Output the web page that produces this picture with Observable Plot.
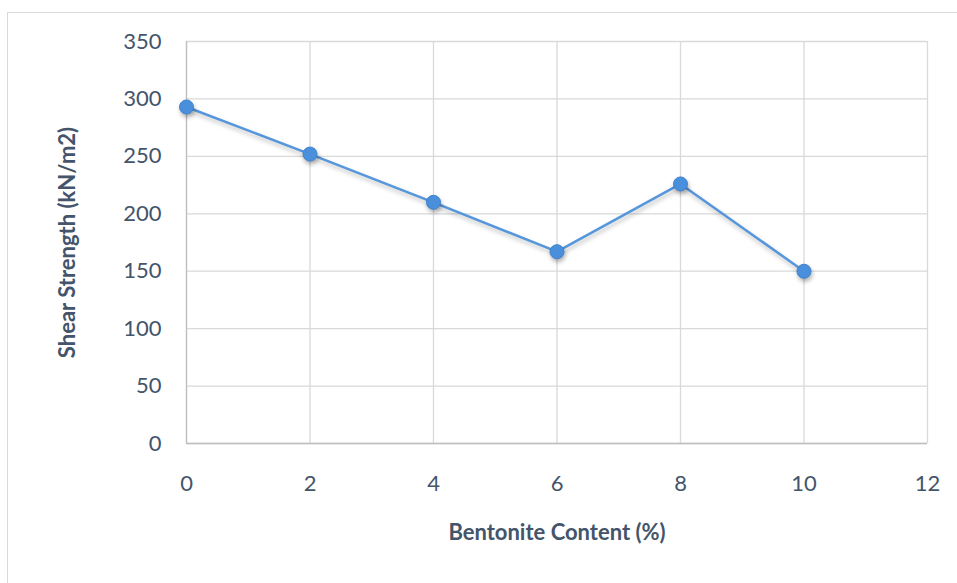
<!DOCTYPE html>
<html>
<head>
<meta charset="utf-8">
<script src="https://cdn.jsdelivr.net/npm/d3@7"></script>
<script src="https://cdn.jsdelivr.net/npm/@observablehq/plot@0.6"></script>
<style>
  html, body { margin: 0; padding: 0; background: #fff; }
  #wrap { position: relative; width: 957px; height: 583px; overflow: hidden; }
  #frame { position: absolute; left: 7px; top: 12px; width: 960px; height: 600px;
           border-top: 1.5px solid #d9d9d9; border-left: 1.5px solid #d9d9d9; }
  #chart { position: absolute; left: 0; top: 0; }
  g[aria-label="line"] { filter: drop-shadow(1px 3px 2px rgba(0,0,0,0.25)); }
  g[aria-label="dot"] { filter: drop-shadow(1px 3px 2px rgba(0,0,0,0.3)); }
</style>
</head>
<body>
<div id="wrap"><div id="frame"></div><div id="chart"></div></div>
<script>
const bentonite = [0, 2, 4, 6, 8, 10];
const shearStrength = [293, 252, 210, 167, 226, 150];
const xTicks = [0, 2, 4, 6, 8, 10, 12];
const yTicks = [0, 50, 100, 150, 200, 250, 300, 350];
const xLabel = "Bentonite Content (%)";
const yLabel = "Shear Strength (kN/m2)";

const data = bentonite.map((b, i) => ({b, s: shearStrength[i]}));
const textColor = "#44546a";
const fontFamily = "Lato, 'Open Sans', sans-serif";

const chart = Plot.plot({
  width: 957,
  height: 583,
  marginLeft: 186,
  marginRight: 30,
  marginTop: 41,
  marginBottom: 140,
  style: {fontFamily, fontSize: "22px", color: textColor, background: "transparent"},
  x: {domain: [0, 12], ticks: xTicks, label: null},
  y: {domain: [0, 350], ticks: yTicks, label: null},
  marks: [
    Plot.gridX(xTicks, {stroke: "#d9d9d9", strokeOpacity: 1, strokeWidth: 1.3}),
    Plot.gridY(yTicks, {stroke: "#d9d9d9", strokeOpacity: 1, strokeWidth: 1.3}),
    Plot.ruleY([0], {stroke: "#bfbfbf", strokeWidth: 1.3}),
    Plot.ruleX([0], {stroke: "#bfbfbf", strokeWidth: 1.3}),
    Plot.axisX(xTicks, {tickSize: 0, tickPadding: 32, fontSize: 22, fill: textColor, label: null}),
    Plot.axisY(yTicks, {tickSize: 0, tickPadding: 25, fontSize: 22, fill: textColor, label: null}),
    Plot.text([xLabel], {frameAnchor: "bottom", lineAnchor: "middle", dy: 89, fontSize: 22, fontWeight: "bold", fill: textColor}),
    Plot.text([yLabel], {frameAnchor: "left", textAnchor: "middle", lineAnchor: "middle", dx: -119, rotate: -90, fontSize: 22, fontWeight: "bold", fill: textColor}),
    Plot.line(data, {x: "b", y: "s", stroke: "#5596dc", strokeWidth: 2.5}),
    Plot.dot(data, {x: "b", y: "s", r: 7, fill: "#4a8fdb", stroke: "#3f82cc", strokeWidth: 1})
  ]
});
document.getElementById("chart").appendChild(chart);
</script>
</body>
</html>
